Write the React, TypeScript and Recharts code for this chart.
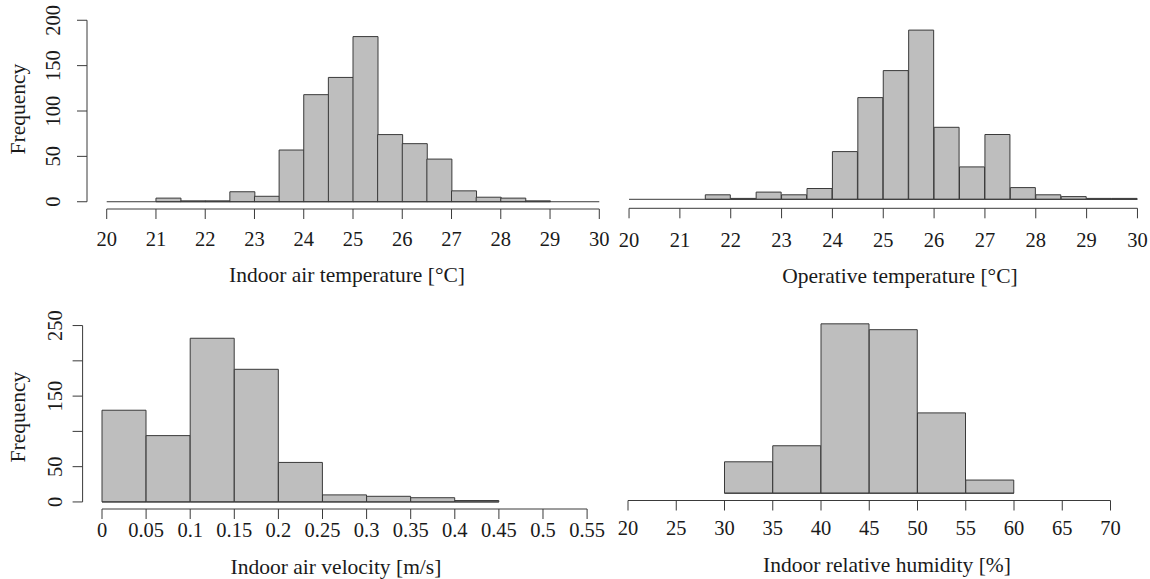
import { BarChart, Bar, XAxis, YAxis, ReferenceLine } from 'recharts'

// bin edges and counts for each histogram
const tempBreaks = [20, 20.5, 21, 21.5, 22, 22.5, 23, 23.5, 24, 24.5, 25, 25.5, 26, 26.5, 27, 27.5, 28, 28.5, 29, 29.5, 30]
const airTempCounts = [0, 0, 4, 1, 1, 11, 6, 57, 118, 137, 182, 74, 64, 47, 12, 5, 4, 1, 0, 0]
const opTempCounts = [0, 0, 0, 5, 1, 8, 5, 12, 53, 113, 143, 188, 80, 36, 72, 13, 5, 3, 1, 1]
const tempTicks = [20, 21, 22, 23, 24, 25, 26, 27, 28, 29, 30]

const velocityBreaks = [0, 0.05, 0.1, 0.15, 0.2, 0.25, 0.3, 0.35, 0.4, 0.45]
const velocityCounts = [130, 94, 232, 188, 56, 10, 8, 6, 2]
const velocityTicks = [0, 0.05, 0.1, 0.15, 0.2, 0.25, 0.3, 0.35, 0.4, 0.45, 0.5, 0.55]

const humidityBreaks = [30, 35, 40, 45, 50, 55, 60]
const humidityCounts = [43, 65, 232, 224, 110, 18]
const humidityTicks = [20, 25, 30, 35, 40, 45, 50, 55, 60, 65, 70]

const freqTicksTop = [0, 50, 100, 150, 200]
const freqLabelsTop = [0, 50, 100, 150, 200]
const freqTicksBottom = [0, 50, 100, 150, 200, 250]
const freqLabelsBottom = [0, 50, 150, 250]

const FONT = '"Liberation Serif", "Times New Roman", serif'
const INK = '#1a1a1a'
const LINE = '#3a3a3a'
const FILL = '#bebebe'
const TICK_SIZE = 20.5
const TITLE_SIZE = 21.5

interface Box { left: number; top: number; width: number; height: number }
interface Plot { x0: number; x1: number; y0: number; y1: number }

interface HistProps {
  breaks: number[]
  counts: number[]
  xTicks: number[]
  yMax: number
  yTicks?: number[]
  yLabels?: number[]
  xTitle: string
  box: Box
  plot: Plot
  tickBaseline: number
  titleBaseline: number
  titleX: number
  yLabelX?: number
  yTitleX?: number
  yTitleY?: number
}

function Histogram(p: HistProps) {
  const { box, plot } = p
  const xLo = p.xTicks[0]
  const xHi = p.xTicks[p.xTicks.length - 1]
  // R-style plot region: data range stretched by 4% on each side
  const xUsr: [number, number] = [xLo - 0.04 * (xHi - xLo), xHi + 0.04 * (xHi - xLo)]
  const yUsr: [number, number] = [-0.04 * p.yMax, 1.04 * p.yMax]
  const pxPerUnit = (plot.x1 - plot.x0) / (xUsr[1] - xUsr[0])
  const padLeft = (p.breaks[0] - xUsr[0]) * pxPerUnit
  const padRight = (xUsr[1] - p.breaks[p.breaks.length - 1]) * pxPerUnit

  const data = p.counts.map((count, i) => ({
    bin: `${p.breaks[i]}-${p.breaks[i + 1]}`,
    mid: (p.breaks[i] + p.breaks[i + 1]) / 2,
    count,
  }))

  const showY = !!p.yTicks
  const yAxisWidth = showY ? plot.x0 - box.left : 0
  const margin = {
    top: plot.y0 - box.top,
    left: plot.x0 - box.left - yAxisWidth,
    right: box.left + box.width - plot.x1,
    bottom: 0,
  }
  const xAxisHeight = box.top + box.height - plot.y1

  const xTick = (t: any) => (
    <text
      x={t.x}
      y={p.tickBaseline - box.top}
      textAnchor="middle"
      fontSize={TICK_SIZE}
      fontFamily={FONT}
      fill={INK}
    >
      {String(t.payload.value)}
    </text>
  )

  const yTick = (t: any) => {
    if (!p.yLabels || !p.yLabels.includes(t.payload.value)) return <g />
    const lx = (p.yLabelX ?? 0) - box.left
    return (
      <text
        x={lx}
        y={t.y}
        transform={`rotate(-90 ${lx} ${t.y})`}
        textAnchor="middle"
        fontSize={TICK_SIZE}
        fontFamily={FONT}
        fill={INK}
      >
        {String(t.payload.value)}
      </text>
    )
  }

  const xTitle = () => (
    <text
      x={p.titleX - box.left}
      y={p.titleBaseline - box.top}
      textAnchor="middle"
      fontSize={TITLE_SIZE}
      fontFamily={FONT}
      fill={INK}
    >
      {p.xTitle}
    </text>
  )

  const yTitle = () => {
    const tx = (p.yTitleX ?? 0) - box.left
    const ty = (p.yTitleY ?? 0) - box.top
    return (
      <text
        x={tx}
        y={ty}
        transform={`rotate(-90 ${tx} ${ty})`}
        textAnchor="middle"
        fontSize={TITLE_SIZE}
        fontFamily={FONT}
        fill={INK}
      >
        Frequency
      </text>
    )
  }

  return (
    <div style={{ position: 'absolute', left: box.left, top: box.top }}>
      <BarChart
        width={box.width}
        height={box.height}
        data={data}
        margin={margin}
        barCategoryGap={0}
        barGap={0}
      >
        {/* numeric axis carries the ticks; the bin axis only places the bars */}
        <XAxis
          xAxisId="num"
          dataKey="mid"
          type="number"
          domain={xUsr}
          ticks={p.xTicks}
          interval={0}
          allowDataOverflow
          axisLine={false}
          tickSize={10}
          tickLine={{ stroke: LINE, strokeWidth: 1 }}
          tick={xTick}
          height={xAxisHeight}
          label={xTitle}
        />
        <XAxis
          xAxisId="bins"
          dataKey="bin"
          type="category"
          hide
          height={0}
          padding={{ left: padLeft, right: padRight }}
        />
        <YAxis
          yAxisId="y"
          type="number"
          domain={yUsr}
          ticks={p.yTicks ?? []}
          interval={0}
          allowDataOverflow
          hide={!showY}
          width={yAxisWidth}
          axisLine={false}
          tickSize={10}
          tickLine={{ stroke: LINE, strokeWidth: 1 }}
          tick={yTick}
          label={showY ? yTitle : undefined}
        />
        <Bar
          xAxisId="bins"
          yAxisId="y"
          dataKey="count"
          fill={FILL}
          stroke={LINE}
          strokeWidth={1}
          isAnimationActive={false}
        />
        {/* zero-count bins show as a flat line along the baseline */}
        <ReferenceLine
          xAxisId="num"
          yAxisId="y"
          segment={[
            { x: p.breaks[0], y: 0 },
            { x: p.breaks[p.breaks.length - 1], y: 0 },
          ]}
          stroke={LINE}
          strokeWidth={1}
          ifOverflow="visible"
        />
        <ReferenceLine
          xAxisId="num"
          yAxisId="y"
          segment={[
            { x: xLo, y: yUsr[0] },
            { x: xHi, y: yUsr[0] },
          ]}
          stroke={LINE}
          strokeWidth={1}
          ifOverflow="visible"
        />
        {showY && p.yTicks && (
          <ReferenceLine
            xAxisId="num"
            yAxisId="y"
            segment={[
              { x: xUsr[0], y: p.yTicks[0] },
              { x: xUsr[0], y: p.yTicks[p.yTicks.length - 1] },
            ]}
            stroke={LINE}
            strokeWidth={1}
            ifOverflow="visible"
          />
        )}
      </BarChart>
    </div>
  )
}

export default function App() {
  return (
    <div
      style={{
        position: 'absolute',
        left: 0,
        top: 0,
        width: 1150,
        height: 579,
        overflow: 'hidden',
        background: '#fff',
        fontFamily: FONT,
      }}
    >
      <Histogram
        breaks={tempBreaks}
        counts={airTempCounts}
        xTicks={tempTicks}
        yMax={200}
        yTicks={freqTicksTop}
        yLabels={freqLabelsTop}
        xTitle="Indoor air temperature [°C]"
        box={{ left: 0, top: 0, width: 625, height: 292 }}
        plot={{ x0: 87, x1: 619, y0: 13, y1: 209 }}
        tickBaseline={246}
        titleBaseline={282}
        titleX={347}
        yLabelX={60}
        yTitleX={25}
        yTitleY={109}
      />
      <Histogram
        breaks={tempBreaks}
        counts={opTempCounts}
        xTicks={tempTicks}
        yMax={250}
        xTitle="Operative temperature [°C]"
        box={{ left: 590, top: -40, width: 575, height: 332 }}
        plot={{ x0: 608.7, x1: 1157.8, y0: -34.7, y1: 208.3 }}
        tickBaseline={247}
        titleBaseline={283}
        titleX={900}
      />
      <Histogram
        breaks={velocityBreaks}
        counts={velocityCounts}
        xTicks={velocityTicks}
        yMax={250}
        yTicks={freqTicksBottom}
        yLabels={freqLabelsBottom}
        xTitle="Indoor air velocity [m/s]"
        box={{ left: 0, top: 300, width: 620, height: 279 }}
        plot={{ x0: 82.6, x1: 606.5, y0: 318.5, y1: 509 }}
        tickBaseline={537}
        titleBaseline={574}
        titleX={336}
        yLabelX={62}
        yTitleX={24.5}
        yTitleY={417}
      />
      <Histogram
        breaks={humidityBreaks}
        counts={humidityCounts}
        xTicks={humidityTicks}
        yMax={250}
        xTitle="Indoor relative humidity [%]"
        box={{ left: 590, top: 290, width: 560, height: 289 }}
        plot={{ x0: 608.7, x1: 1129.8, y0: 303.4, y1: 500.5 }}
        tickBaseline={535}
        titleBaseline={572}
        titleX={887}
      />
    </div>
  )
}
